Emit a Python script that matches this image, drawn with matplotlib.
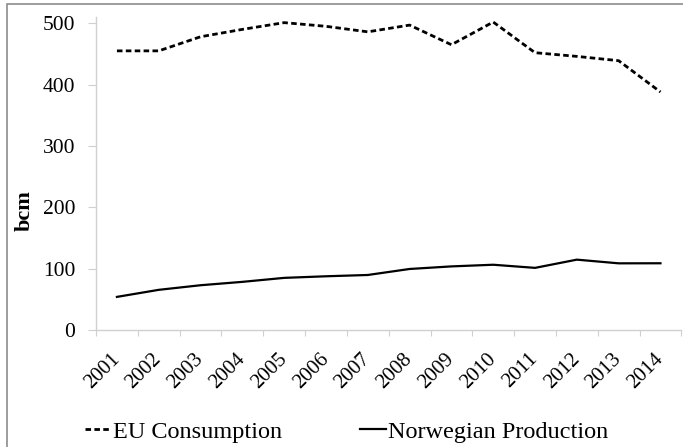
import numpy as np
import matplotlib.pyplot as plt
from matplotlib.patches import Rectangle

years = ["2001", "2002", "2003", "2004", "2005", "2006", "2007",
         "2008", "2009", "2010", "2011", "2012", "2013", "2014"]
eu_consumption = [455, 455, 478, 490, 501, 495, 486, 497, 465, 502, 452, 446, 439, 388]
norway_production = [54, 65.5, 73, 78.5, 85, 87.6, 89.7, 99.5, 103.7, 106.4, 101.3, 114.7, 108.7, 108.8]

fig = plt.figure(figsize=(6.83, 4.47), dpi=100)
ax = fig.add_axes([0.1406, 0.2617, 0.857, 0.700])

x = np.arange(len(years))
ax.plot(x, eu_consumption, color="black", lw=2, linestyle=(0, (2.0, 1.2)), label="EU Consumption")
ax.plot(x, norway_production, color="black", lw=1.6, label="Norwegian Production")

ax.set_xlim(-0.5, len(years) - 0.5)
ax.set_ylim(0, 510)
ax.set_yticks([0, 100, 200, 300, 400, 500])
ax.set_xticks(np.arange(-0.5, len(years), 1.0))
ax.set_xticklabels([])
ax.set_xticks(x, minor=True)
ax.set_xticklabels(years, minor=True, rotation=45, ha="right", va="center",
                   rotation_mode="anchor", family="Liberation Serif", fontsize=15)
ax.tick_params(axis="x", which="minor", length=0, pad=19)
ax.tick_params(axis="x", which="major", length=4, color="#d0d0d0", direction="out")
ax.tick_params(axis="y", length=6, color="#d0d0d0", direction="out", pad=9)
for lbl in ax.get_yticklabels():
    lbl.set_family("Liberation Serif")
    lbl.set_fontsize(15.5)

for s in ["top", "right"]:
    ax.spines[s].set_visible(False)
for s in ["left", "bottom"]:
    ax.spines[s].set_color("#d0d0d0")
    ax.spines[s].set_linewidth(1)

ax.set_ylabel("bcm", family="Liberation Serif", fontweight="bold", fontsize=16)
ax.yaxis.set_label_coords(-0.104, 0.383)

fig.legend(loc="lower left", bbox_to_anchor=(0.093, -0.04), ncol=2, frameon=False,
           prop={"family": "Liberation Serif", "size": 17.5}, handlelength=1.05,
           handletextpad=0.1, columnspacing=3.2)

# outer frame of the chart area
fig.patches.append(Rectangle((7 / 683, -0.1), 1.2, 1 - 3.5 / 447 + 0.1, transform=fig.transFigure,
                             fill=False, edgecolor="#8c8c8c", lw=1.2))

fig.savefig("out.png", dpi=100)
